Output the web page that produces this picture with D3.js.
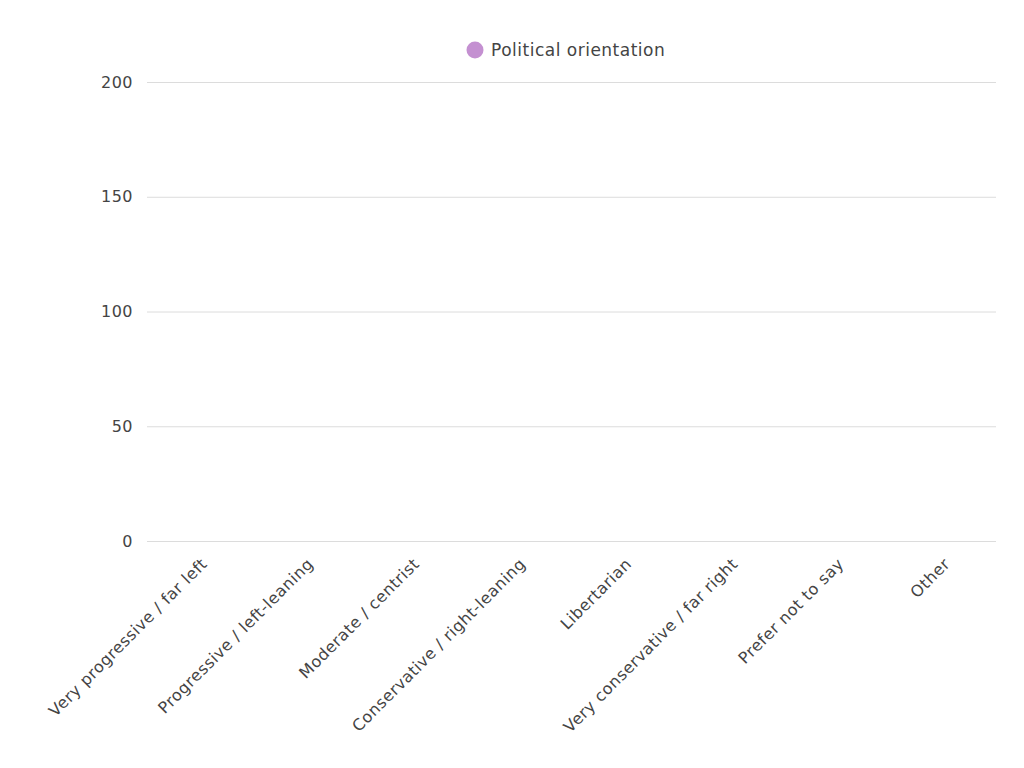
<!DOCTYPE html>
<html>
<head>
<meta charset="utf-8">
<script src="https://cdn.jsdelivr.net/npm/d3@7"></script>
<style>
  html, body { margin: 0; padding: 0; background: #fff; }
  svg { display: block; font-family: "DejaVu Sans", sans-serif; letter-spacing: 0.5px; }
</style>
</head>
<body>
<svg id="chart" width="1024" height="768"></svg>
<script>
const categories = [
  "Very progressive / far left",
  "Progressive / left-leaning",
  "Moderate / centrist",
  "Conservative / right-leaning",
  "Libertarian",
  "Very conservative / far right",
  "Prefer not to say",
  "Other"
];
const values = [0, 0, 0, 0, 0, 0, 0, 0];
const yTicks = [0, 50, 100, 150, 200];
const seriesName = "Political orientation";
const seriesColor = "#c490d1";

const svg = d3.select("#chart");
const margin = { left: 147, right: 28, top: 82, bottom: 227 };
const W = 1024, H = 768;

const x = d3.scaleBand().domain(categories).range([margin.left, W - margin.right])
  .paddingInner(0.1).paddingOuter(0.05);
const y = d3.scaleLinear().domain([0, 200]).range([H - margin.bottom, margin.top]);

// grid
svg.append("g").selectAll("line").data(yTicks).join("line")
  .attr("x1", margin.left).attr("x2", W - margin.right)
  .attr("y1", d => y(d) + 0.5).attr("y2", d => y(d) + 0.5)
  .attr("stroke", "#dcdcdc").attr("stroke-width", 1);

// y axis labels
const yAxis = d3.axisLeft(y).tickValues(yTicks).tickSize(0).tickPadding(14);
const gy = svg.append("g").attr("transform", `translate(${margin.left},0)`).call(yAxis);
gy.select(".domain").remove();
gy.selectAll("text").attr("fill", "#444").style("font-size", "16px")
  .style("font-family", "DejaVu Sans, sans-serif");

// bars
svg.append("g").selectAll("rect").data(values).join("rect")
  .attr("x", (d, i) => x(categories[i]))
  .attr("width", x.bandwidth())
  .attr("y", d => y(d))
  .attr("height", d => y(0) - y(d))
  .attr("fill", seriesColor);

// x axis labels
const xAxis = d3.axisBottom(x).tickSize(0).tickPadding(0);
const gx = svg.append("g").attr("transform", `translate(0,${y(0)})`).call(xAxis);
gx.select(".domain").remove();
gx.selectAll("text")
  .attr("fill", "#444")
  .style("font-size", "16px")
  .style("font-family", "DejaVu Sans, sans-serif")
  .attr("text-anchor", "end")
  .attr("dy", null)
  .attr("y", 0)
  .attr("transform", "translate(8,24) rotate(-45)");

// legend
const lg = svg.append("g").attr("transform", "translate(475,50)");
lg.append("circle").attr("r", 8.5).attr("fill", seriesColor);
lg.append("text").attr("x", 16).attr("y", 0).attr("dy", "0.35em")
  .attr("fill", "#444").style("font-size", "17px").text(seriesName);
</script>
</body>
</html>
